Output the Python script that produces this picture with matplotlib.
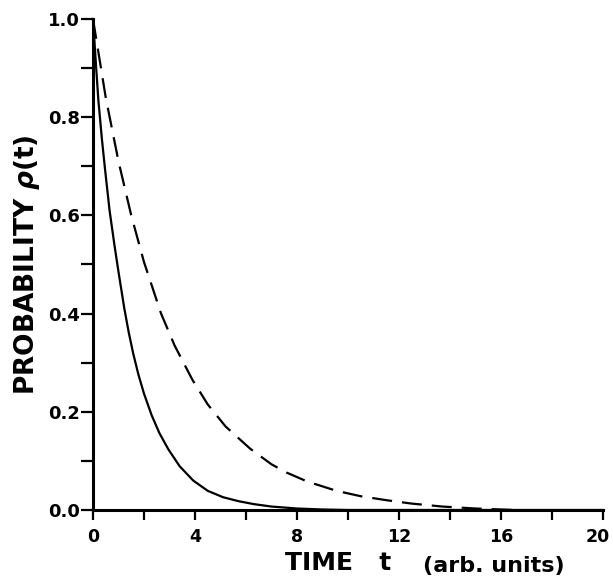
import matplotlib
matplotlib.use("Agg")
import matplotlib.pyplot as plt
import matplotlib.transforms as mtransforms

# values
t_solid = [0, 0.1, 0.21, 0.35, 0.47, 0.65, 0.84, 1.0, 1.23, 1.4, 1.58, 1.78, 2.0,
           2.3, 2.6, 2.95, 3.4, 3.93, 4.5, 5.1, 5.7, 6.3, 7.0, 8.0, 9.0, 10.0, 20]
p_solid = [1.0, 0.92, 0.835, 0.755, 0.695, 0.61, 0.54, 0.485, 0.41, 0.362, 0.318, 0.276, 0.237,
           0.193, 0.157, 0.124, 0.089, 0.060, 0.039, 0.026, 0.018, 0.012, 0.007, 0.003, 0.001,
           0.0, 0.0]

t_dash = [0, 0.5, 1.0, 1.5, 2.0, 2.67, 3.2, 3.9, 4.5, 5.2, 6.16, 7.0, 7.6, 8.4, 9.55,
          10.5, 11.5, 12.5, 13.7, 15.0, 16.5]
p_dash = [1.0, 0.84, 0.71, 0.60, 0.505, 0.40, 0.335, 0.265, 0.215, 0.17, 0.125, 0.093,
          0.076, 0.058, 0.039, 0.028, 0.020, 0.013, 0.007, 0.003, 0.0]

x_ticks = [0, 2, 4, 6, 8, 10, 12, 14, 16, 18, 20]
x_labels = ['0', '', '4', '', '8', '', '12', '', '16', '', '20']
y_ticks = [0.0, 0.1, 0.2, 0.3, 0.4, 0.5, 0.6, 0.7, 0.8, 0.9, 1.0]
y_labels = ['0.0', '', '0.2', '', '0.4', '', '0.6', '', '0.8', '', '1.0']

plt.rcParams['font.family'] = ['DejaVu Sans']
plt.rcParams['font.weight'] = 'bold'

fig = plt.figure(figsize=(6.13, 5.79), dpi=100)
ax = fig.add_axes([0.1517, 0.1192, 0.8320, 0.8480])

ax.plot(t_solid, p_solid, color='black', lw=1.6, clip_on=False)
ax.plot(t_dash, p_dash, color='black', lw=1.6, dashes=(9, 4.5), clip_on=False)

ax.set_xlim(0, 20)
ax.set_ylim(0, 1.0)
ax.spines['top'].set_visible(False)
ax.spines['right'].set_visible(False)
ax.spines['left'].set_linewidth(2.2)
ax.spines['bottom'].set_linewidth(2.2)

ax.set_xticks(x_ticks)
ax.set_xticklabels(x_labels, fontsize=12.5, fontweight='bold')
ax.set_yticks(y_ticks)
ax.set_yticklabels(y_labels, fontsize=13, fontweight='bold')
ax.tick_params(axis='x', direction='out', length=7, width=1.6, pad=6)
ax.tick_params(axis='y', direction='out', length=8.5, width=1.6, pad=1)

# last x label sits a little left of its tick, as in the reference
last = ax.get_xticklabels()[-1]
last.set_transform(last.get_transform() + mtransforms.ScaledTranslation(-5 / 100, 0, fig.dpi_scale_trans))

ax.set_ylabel(r'PROBABILITY $\rho$(t)', fontsize=19, fontweight='bold', labelpad=4)
fig.text(0.551, 0.027, 'TIME   t', fontsize=18, fontweight='bold', ha='center', va='center')
fig.text(0.806, 0.022, '(arb. units)', fontsize=16, fontweight='bold', ha='center', va='center')

fig.savefig('out.png', dpi=100)
